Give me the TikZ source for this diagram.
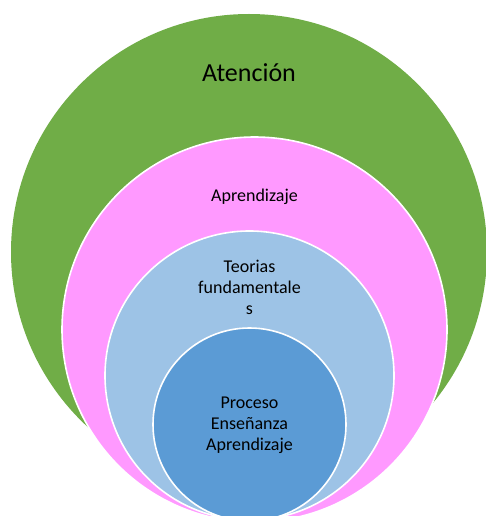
\documentclass[tikz,border=0pt]{standalone}
\usepackage{fontspec}
\setmainfont{Carlito}
\definecolor{cgreen}{HTML}{70AD47}
\definecolor{cpink}{HTML}{FF99FF}
\definecolor{clight}{HTML}{9DC3E6}
\definecolor{cdark}{HTML}{5B9BD5}
\begin{document}
\begin{tikzpicture}[x=1pt,y=-1pt,
  ring/.style={circle, inner sep=0pt, draw=white, line width=1.6pt},
  lbl/.style={font=\fontsize{18}{21}\selectfont, align=center, text=black, inner sep=0pt}]
\useasboundingbox (0,0) rectangle (486,516);
\clip (0,0) rectangle (486,516);
\node[circle, inner sep=0pt, minimum size=476pt, fill=cgreen] (atn) at (249,252) {};
\node[ring, minimum size=385pt, fill=cpink] (apr) at (254.5,329.5) {};
\node[ring, minimum size=289pt, fill=clight] (teo) at (249.5,375.5) {};
\node[ring, minimum size=193pt, fill=cdark] (pro) at (249.5,424.5) {};
\node[lbl, font=\fontsize{26}{31}\selectfont] (tatn) at (249,73) {Atención};
\node[lbl] (tapr) at (254.5,197) {Aprendizaje};
\node[lbl] (tteo) at (249.5,287) {Teorias\\fundamentale\\s};
\node[lbl] (tpro) at (249.5,425) {Proceso\\Enseñanza\\Aprendizaje};
\end{tikzpicture}
\end{document}
